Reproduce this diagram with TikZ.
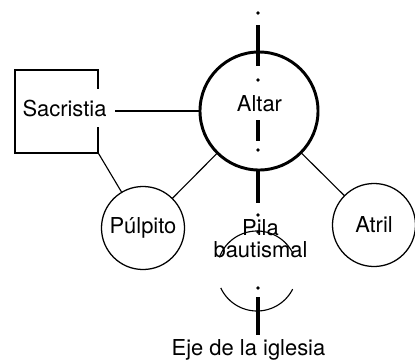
\documentclass[tikz,border=0pt]{standalone}
\usepackage{fontspec}
\setmainfont{TeX Gyre Heros}

\begin{document}
\begin{tikzpicture}[x=0.025cm,y=-0.025cm,
  font=\fontsize{15.6}{15}\selectfont,
  ring/.style={circle,draw,inner sep=0pt,outer sep=0pt,line width=0.9pt,minimum size=2.075cm},
  link/.style={line width=0.8pt},
  axisbar/.style={line width=2.2pt}]
\useasboundingbox (0,0) rectangle (415,362);

% axis of the church
\foreach \a/\b in {25/66,120/141,170/203,297/335}
  \draw[axisbar] (258,\a) -- (258,\b);
\foreach \y in {13,80,150,215,232,288}
  \fill (258,\y) circle (1.8);

% sacristy
\node[draw,line width=0.9pt,minimum width=2.075cm,minimum height=2.075cm,inner sep=0pt] (sacbox) at (56.5,111.5) {};
\node[fill=white,inner xsep=2pt,inner ysep=7.5pt,anchor=base] (sac) at (64.5,116) {Sacristia};

% altar, pulpit, lectern, font
\node[ring,line width=2.1pt,minimum size=2.95cm] (altar) at (259,111) {};
\node[anchor=base,inner sep=1pt] (altartxt) at (259.5,111) {Altar};
\node[ring] (pulpito) at (143,228) {Púlpito};
\node[ring] (atril) at (374,225) {Atril};
\node[align=center,anchor=base,inner sep=0pt] (pilatxt) at (260.5,257) {Pila\\bautismal};
% broken ring of the font (y points down)
\draw[link] plot[domain=25:160,samples=40] ({257+40*cos(\x)},{271-40*sin(\x)});
\draw[link] plot[domain=-27:-155,samples=40] ({257+40*cos(\x)},{271-40*sin(\x)});

\draw[link,shorten <=4pt] (sac.east |- altar.west) -- (altar.west);
\draw[link] (sacbox.south east) -- (pulpito);
\draw[link] (pulpito) -- (altar);
\draw[link] (altar) -- (atril);

\node[anchor=base] (eje) at (248.5,355) {Eje de la iglesia};
\end{tikzpicture}
\end{document}
